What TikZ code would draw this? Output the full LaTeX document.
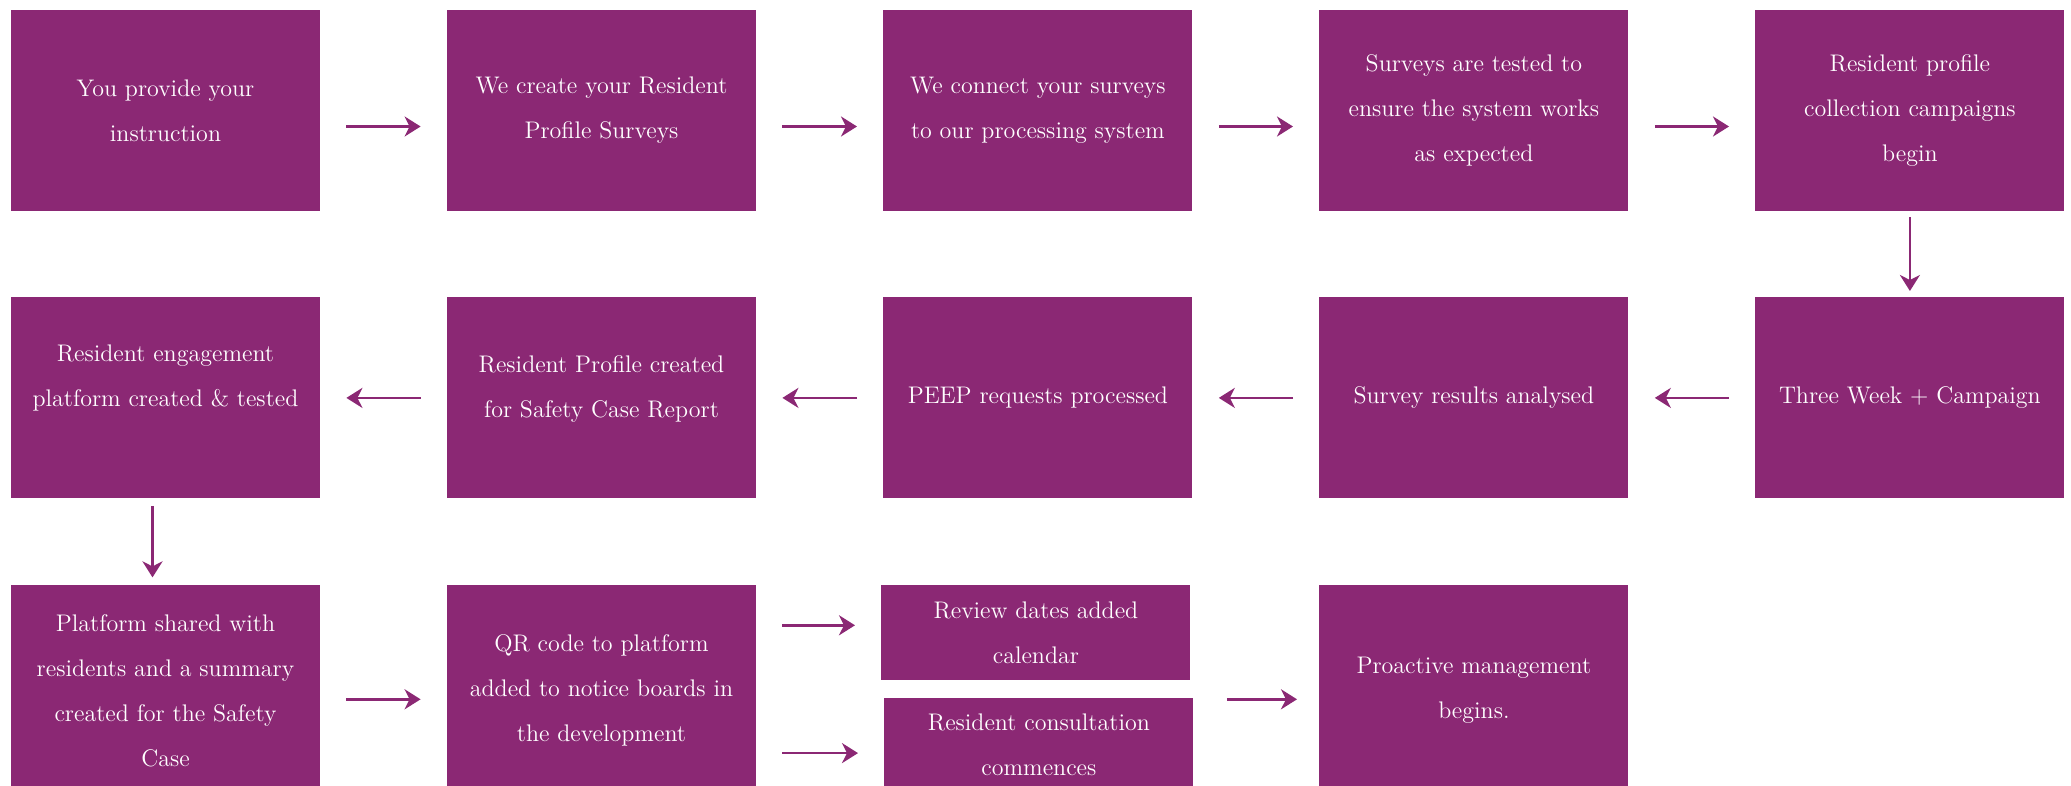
\documentclass[tikz,border=0pt]{standalone}
\usepackage{tikz}
\usetikzlibrary{matrix, positioning, arrows.meta, calc}
\definecolor{plum}{HTML}{8B2874}
\tikzset{
 box/.style = {fill=plum, text=white, minimum width=154.5pt, minimum height=100.5pt, align=center, inner sep=0pt, font=\fontsize{12}{22.5}\selectfont},
 lowbox/.style = {box, minimum height=105.5pt},
 halfbox/.style = {box, minimum height=47.5pt},
 flow/.style = {draw=plum, line width=1.3pt, -{Stealth[length=8pt, width=10pt, inset=2.5pt]}, shorten <=13pt, shorten >=13pt}
}

\begin{document}
\begin{tikzpicture}
\useasboundingbox (0,0) rectangle (1035.5pt,-393pt);
\clip (0,0) rectangle (1035.5pt,-393pt);
\matrix (m) [anchor=north west, inner sep=0pt, column sep=63.5pt, row sep=43pt] at (5.3pt,-4.6pt) {
\node(a1)[box]{You provide your\\instruction}; &
\node(a2)[box]{We create your Resident\\Profile Surveys}; &
\node(a3)[box]{We connect your surveys\\to our processing system}; &
\node(a4)[box]{Surveys are tested to\\ensure the system works\\as expected}; &
\node(a5)[box]{Resident profile\\collection campaigns\\begin}; \\
\node(b1)[box]{Resident engagement\\platform created \& tested\\\mbox{}}; &
\node(b2)[box]{Resident Profile created\\for Safety Case Report\\[-11pt]\mbox{}}; &
\node(b3)[box]{PEEP requests processed}; &
\node(b4)[box]{Survey results analysed}; &
\node(b5)[box]{Three Week + Campaign}; \\
\node(c1)[lowbox]{Platform shared with\\residents and a summary\\created for the Safety\\Case}; &
\node(c2)[lowbox]{QR code to platform\\added to notice boards in\\the development}; &
 &
\node(c4)[lowbox]{Proactive management\\begins.}; \\
};
\node(rev)[halfbox, anchor=north, xshift=-1pt] at (b3 |- c2.north) {Review dates added\\calendar};
\node(cons)[halfbox, below=8.5pt of rev, xshift=1.5pt] {Resident consultation\\commences};
\draw[flow] ([yshift=-8pt]a1.east) -- ([yshift=-8pt]a2.west);
\draw[flow] ([yshift=-8pt]a2.east) -- ([yshift=-8pt]a3.west);
\draw[flow] ([yshift=-8pt]a3.east) -- ([yshift=-8pt]a4.west);
\draw[flow] ([yshift=-8pt]a4.east) -- ([yshift=-8pt]a5.west);
\draw[flow, shorten <=3pt, shorten >=3pt] (a5.south) -- (b5.north);
\draw[flow] (b5.west) -- (b4.east);
\draw[flow] (b4.west) -- (b3.east);
\draw[flow] (b3.west) -- (b2.east);
\draw[flow] (b2.west) -- (b1.east);
\draw[flow, shorten <=3.5pt, shorten >=3.5pt] ([xshift=-6.5pt]b1.south) -- ([xshift=-6.5pt]c1.north);
\draw[flow] ([yshift=-4.5pt]c1.east) -- ([yshift=-4.5pt]c2.west);
\draw[flow] ($(rev.west -| c2.east)+(0,3.5pt)$) -- ($(rev.west)+(0,3.5pt)$);
\draw[flow] ($(cons.west -| c2.east)+(0,-4pt)$) -- ($(cons.west)+(0,-4pt)$);
\draw[flow, shorten <=16.5pt, shorten >=11pt] ($(c4.west -| cons.east)+(0,-4.5pt)$) -- ($(c4.west)+(0,-4.5pt)$);
\end{tikzpicture}
\end{document}
